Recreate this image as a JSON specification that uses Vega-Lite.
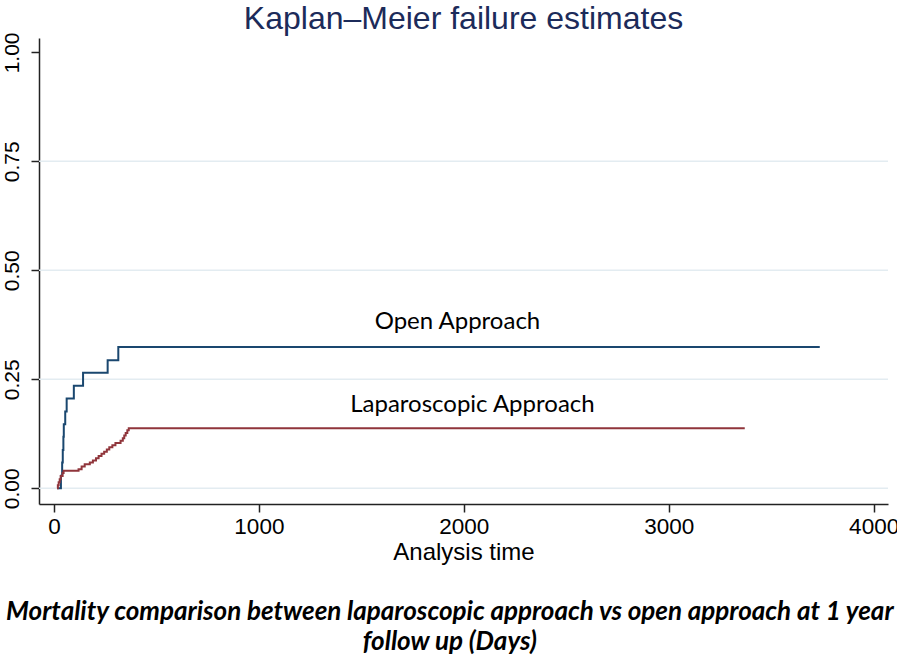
{
  "$schema": "https://vega.github.io/schema/vega-lite/v6.json",
  "padding": {"left": 0, "top": 2, "right": 10, "bottom": 4},
  "background": "white",
  "config": {"view": {"stroke": null}, "font": "Liberation Sans"},
  "title": {
    "text": ["Mortality comparison between laparoscopic approach vs open approach at 1 year", "follow up (Days)"],
    "orient": "bottom",
    "anchor": "middle",
    "font": "Lato",
    "fontSize": 26,
    "fontWeight": "bold",
    "fontStyle": "italic",
    "color": "black",
    "lineHeight": 30,
    "offset": 34
  },
  "datasets": {
    "curves": [
      {"group": "Open", "t": 15, "v": 0.0},
      {"group": "Open", "t": 34, "v": 0.029},
      {"group": "Open", "t": 40, "v": 0.059},
      {"group": "Open", "t": 43, "v": 0.088},
      {"group": "Open", "t": 46, "v": 0.118},
      {"group": "Open", "t": 48, "v": 0.147},
      {"group": "Open", "t": 55, "v": 0.176},
      {"group": "Open", "t": 62, "v": 0.206},
      {"group": "Open", "t": 97, "v": 0.235},
      {"group": "Open", "t": 142, "v": 0.265},
      {"group": "Open", "t": 262, "v": 0.294},
      {"group": "Open", "t": 314, "v": 0.324},
      {"group": "Open", "t": 3737, "v": 0.324},
      {"group": "Lap", "t": 15, "v": 0.0},
      {"group": "Lap", "t": 19, "v": 0.007},
      {"group": "Lap", "t": 23, "v": 0.014},
      {"group": "Lap", "t": 28, "v": 0.021},
      {"group": "Lap", "t": 33, "v": 0.028},
      {"group": "Lap", "t": 42, "v": 0.035},
      {"group": "Lap", "t": 47, "v": 0.04},
      {"group": "Lap", "t": 120, "v": 0.044},
      {"group": "Lap", "t": 135, "v": 0.05},
      {"group": "Lap", "t": 150, "v": 0.055},
      {"group": "Lap", "t": 175, "v": 0.059},
      {"group": "Lap", "t": 190, "v": 0.064},
      {"group": "Lap", "t": 205, "v": 0.069},
      {"group": "Lap", "t": 218, "v": 0.074},
      {"group": "Lap", "t": 232, "v": 0.079},
      {"group": "Lap", "t": 245, "v": 0.084},
      {"group": "Lap", "t": 258, "v": 0.089},
      {"group": "Lap", "t": 270, "v": 0.094},
      {"group": "Lap", "t": 285, "v": 0.099},
      {"group": "Lap", "t": 300, "v": 0.104},
      {"group": "Lap", "t": 325, "v": 0.109},
      {"group": "Lap", "t": 336, "v": 0.115},
      {"group": "Lap", "t": 343, "v": 0.121},
      {"group": "Lap", "t": 350, "v": 0.127},
      {"group": "Lap", "t": 358, "v": 0.133},
      {"group": "Lap", "t": 365, "v": 0.138},
      {"group": "Lap", "t": 3371, "v": 0.138}
    ],
    "labels": [
      {"t": 1969, "v": 0.366, "text": "Open Approach"},
      {"t": 2042, "v": 0.176, "text": "Laparoscopic Approach"}
    ],
    "grid": [{"v": 0}, {"v": 0.25}, {"v": 0.5}, {"v": 0.75}]
  },
  "vconcat": [
    {
      "width": 849,
      "height": 466,
      "title": {
        "text": "Kaplan–Meier failure estimates",
        "anchor": "middle",
        "frame": "group",
        "font": "Liberation Sans",
        "fontSize": 32,
        "fontWeight": "normal",
        "color": "#1c2b5a",
        "offset": -4
      },
      "layer": [
        {
          "data": {"name": "grid"},
          "mark": {"type": "rule", "color": "#e3ecf1", "strokeWidth": 1.5},
          "encoding": {
            "y": {"field": "v", "type": "quantitative", "scale": {"domain": [-0.036, 1.033], "nice": false, "zero": false}}
          }
        },
        {
          "data": {"name": "curves"},
          "mark": {"type": "line", "interpolate": "step-after", "strokeWidth": 2},
          "encoding": {
            "x": {
              "field": "t", "type": "quantitative",
              "scale": {"domain": [-73, 4070], "nice": false, "zero": false},
              "axis": {
                "values": [0, 1000, 2000, 3000, 4000],
                "format": "d",
                "title": "Analysis time",
                "titleFont": "Liberation Sans",
                "titleFontSize": 24,
                "titleFontWeight": "normal",
                "titleColor": "black",
                "titlePadding": 3,
                "labelFont": "Liberation Sans",
                "labelFontSize": 22.5,
                "labelColor": "black",
                "labelPadding": 3,
                "tickSize": 8,
                "tickColor": "#222",
                "tickWidth": 1.5,
                "domainColor": "#222",
                "domainWidth": 1.5,
                "grid": false,
                "labelFlush": false,
                "labelOverlap": false
              }
            },
            "y": {
              "field": "v", "type": "quantitative",
              "scale": {"domain": [-0.036, 1.033], "nice": false, "zero": false},
              "axis": {
                "values": [0, 0.25, 0.5, 0.75, 1],
                "format": ".2f",
                "title": null,
                "labelFont": "Liberation Sans",
                "labelFontSize": 21,
                "labelColor": "black",
                "labelAngle": 270,
                "labelAlign": "center",
                "labelBaseline": "alphabetic",
                "labelPadding": 13,
                "tickSize": 8,
                "tickColor": "#222",
                "tickWidth": 1.5,
                "domainColor": "#222",
                "domainWidth": 1.5,
                "grid": false,
                "minExtent": 37,
                "maxExtent": 37,
                "labelFlush": false,
                "labelOverlap": false
              }
            },
            "color": {
              "field": "group", "type": "nominal",
              "scale": {"domain": ["Open", "Lap"], "range": ["#1a476f", "#90353b"]},
              "legend": null
            }
          }
        },
        {
          "data": {"name": "labels"},
          "mark": {"type": "text", "font": "Lato", "fontSize": 24, "color": "black", "align": "center", "baseline": "alphabetic"},
          "encoding": {
            "x": {"field": "t", "type": "quantitative"},
            "y": {"field": "v", "type": "quantitative"},
            "text": {"field": "text"}
          }
        }
      ]
    }
  ]
}
